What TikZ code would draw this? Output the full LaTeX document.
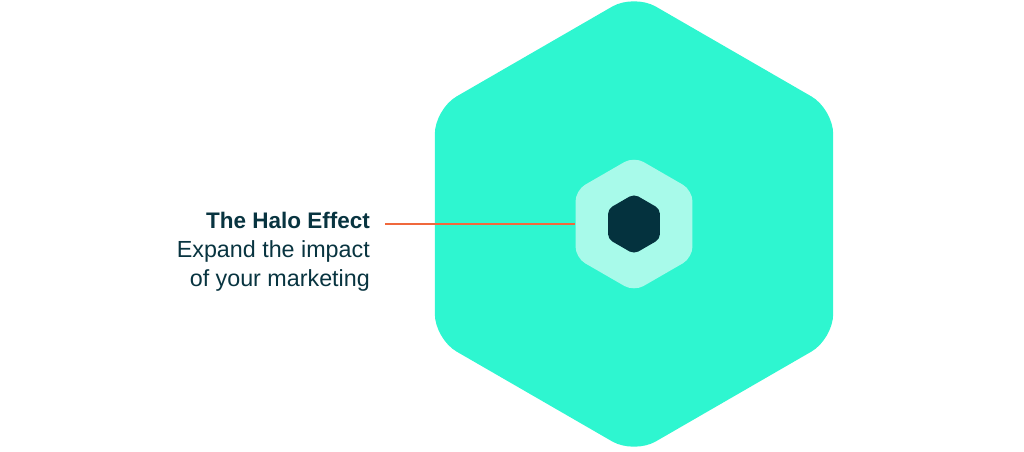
\documentclass[tikz,border=0pt]{standalone}
\usepackage{fontspec}
\setmainfont{Liberation Sans}
\usepackage{tikz}
\usetikzlibrary{shapes.geometric}
\definecolor{VerdeMenta}{RGB}{46,246,208}
\definecolor{MentaClaro}{RGB}{168,250,234}
\definecolor{TealOscuro}{RGB}{4,50,62}
\definecolor{TextoTeal}{RGB}{8,52,64}
\definecolor{NaranjaLinea}{RGB}{240,104,60}
\begin{document}
\begin{tikzpicture}[x=1pt,y=-1pt,
  hexa/.style={regular polygon,regular polygon sides=6,shape border rotate=30,inner sep=0pt,draw=none},
  rotulo/.style={anchor=base east,inner sep=0pt,text=TextoTeal,font=\fontsize{23.3}{28}\selectfont}]
  \useasboundingbox (0,0) rectangle (1024,451);
  \node[hexa,fill=VerdeMenta,minimum size=460pt,rounded corners=25pt] (mercado) at (634,224) {};
  \node[hexa,fill=MentaClaro,minimum size=135pt,rounded corners=11pt] (halo) at (634,224) {};
  \node[hexa,fill=TealOscuro,minimum size=60pt,rounded corners=5pt] (marca) at (634,224) {};
  \node[rotulo,font=\fontsize{22.5}{28}\selectfont\bfseries] (titulo) at (370,228) {The Halo Effect};
  \node[rotulo] (linea1) at (370,257) {Expand the impact};
  \node[rotulo] (linea2) at (370,286) {of your marketing};
  \coordinate (inicio) at (385,224);
  \draw[NaranjaLinea,line width=2pt] (inicio) -- (halo.west);
\end{tikzpicture}
\end{document}
